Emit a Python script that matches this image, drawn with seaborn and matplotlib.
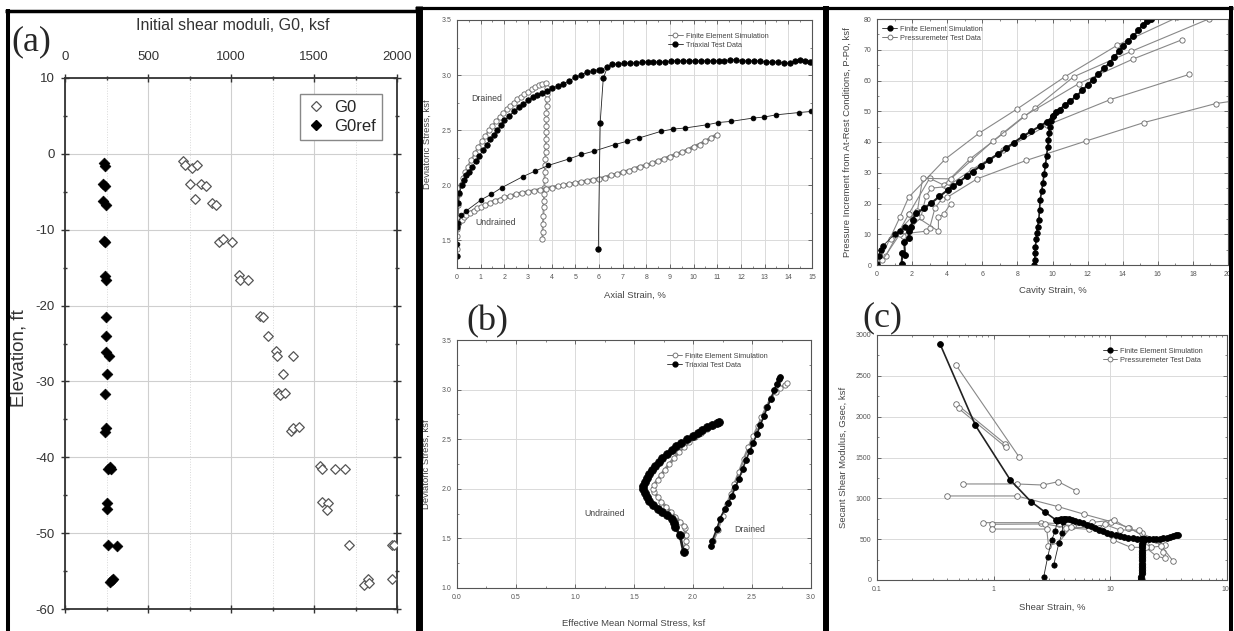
import matplotlib.pyplot as plt
import seaborn as sns
from matplotlib.lines import Line2D
from matplotlib.ticker import MultipleLocator

sns.set_style('white')
plt.rcParams['font.family'] = ['Liberation Sans', 'DejaVu Sans']
plt.rcParams['axes.unicode_minus'] = False

# ---------------- data ----------------
# (a) initial shear moduli vs elevation
g0_mod = [711, 725, 765, 796, 755, 822, 852, 781, 886, 912, 926, 953, 1007,
          1051, 1057, 1102, 1174, 1194, 1225, 1269, 1275, 1376, 1315, 1283,
          1295, 1325, 1364, 1374, 1410, 1537, 1551, 1627, 1688, 1551, 1585,
          1577, 1708, 1803, 1823, 1833, 1968, 1984, 1968]
g0_elev = [-1.0, -1.5, -1.85, -1.5, -4.0, -4.0, -4.3, -6.0, -6.5, -6.8, -11.6,
           -11.2, -11.6, -16.0, -16.6, -16.6, -21.4, -21.5, -24.0, -26.0, -26.6,
           -26.7, -29.0, -31.5, -31.8, -31.5, -36.5, -36.2, -36.0, -41.1, -41.6,
           -41.5, -41.5, -45.9, -46.0, -46.9, -51.5, -56.8, -56.0, -56.6, -51.5,
           -51.5, -56.0]
g0ref_mod = [232, 242, 228, 242, 228, 248, 236, 242, 242, 248, 248, 248, 248,
             268, 252, 238, 248, 238, 262, 278, 270, 252, 256, 262, 312, 292,
             272, 282]
g0ref_elev = [-1.2, -1.6, -4.0, -4.3, -6.2, -6.7, -11.5, -11.6, -16.1, -16.6,
              -21.5, -24.0, -26.1, -26.7, -29.0, -31.7, -36.1, -36.7, -41.5,
              -41.6, -41.3, -46.0, -46.8, -51.5, -51.7, -56.0, -56.5, -56.2]

# (b) top: deviatoric stress vs axial strain
fe_dr_strain = [0.0, 0.0, 0.03, 0.06, 0.1, 0.15, 0.25, 0.35, 0.45, 0.6, 0.75,
                0.9, 1.05, 1.2, 1.35, 1.5, 1.65, 1.8, 1.95, 2.1, 2.25, 2.4,
                2.55, 2.7, 2.85, 3.0, 3.15, 3.3, 3.45, 3.6, 3.75, 3.8, 3.8,
                3.79, 3.79, 3.78, 3.78, 3.77, 3.77, 3.76, 3.75, 3.74, 3.73,
                3.72, 3.71, 3.7, 3.69, 3.68, 3.67, 3.66, 3.65, 3.63, 3.62, 3.61]
fe_dr_q = [1.42, 1.54, 1.70, 1.82, 1.92, 2.0, 2.07, 2.12, 2.17, 2.23, 2.29,
           2.35, 2.4, 2.45, 2.5, 2.54, 2.58, 2.62, 2.66, 2.69, 2.72, 2.75,
           2.78, 2.8, 2.83, 2.85, 2.87, 2.89, 2.91, 2.92, 2.93, 2.88, 2.83,
           2.78, 2.72, 2.66, 2.6, 2.54, 2.48, 2.42, 2.36, 2.3, 2.24, 2.18,
           2.12, 2.05, 1.98, 1.92, 1.86, 1.8, 1.72, 1.65, 1.58, 1.51]
fe_un_strain = [0.0, 0.05, 0.1, 0.2, 0.3, 0.4, 0.55, 0.7, 0.85, 1.0, 1.2, 1.4,
                1.6, 1.8, 2.0, 2.25, 2.5, 2.75, 3.0, 3.25, 3.5, 3.75, 4.0, 4.25,
                4.5, 4.75, 5.0, 5.25, 5.5, 5.75, 6.0, 6.25, 6.5, 6.75, 7.0,
                7.25, 7.5, 7.75, 8.0, 8.25, 8.5, 8.75, 9.0, 9.25, 9.5, 9.75,
                10.0, 10.25, 10.5, 10.75, 11.0]
fe_un_q = [1.6, 1.65, 1.67, 1.69, 1.71, 1.73, 1.75, 1.77, 1.79, 1.8, 1.82, 1.84,
           1.86, 1.87, 1.89, 1.9, 1.92, 1.93, 1.94, 1.95, 1.96, 1.97, 1.98,
           1.99, 2.0, 2.01, 2.02, 2.03, 2.04, 2.05, 2.06, 2.07, 2.09, 2.1,
           2.12, 2.13, 2.15, 2.17, 2.18, 2.2, 2.22, 2.24, 2.26, 2.28, 2.3,
           2.32, 2.35, 2.37, 2.4, 2.43, 2.46]
tx_dr_strain = [0.0, 0.02, 0.05, 0.1, 0.2, 0.3, 0.4, 0.5, 0.65, 0.8, 0.95, 1.1,
                1.25, 1.4, 1.55, 1.7, 1.85, 2.0, 2.2, 2.4, 2.6, 2.8, 3.0, 3.2,
                3.4, 3.6, 3.8, 4.0, 4.25, 4.5, 4.75, 5.0, 5.25, 5.5, 5.75, 6.0,
                6.1]
tx_dr_q = [1.36, 1.62, 1.84, 1.93, 2.0, 2.05, 2.09, 2.12, 2.17, 2.22, 2.27,
           2.32, 2.37, 2.42, 2.46, 2.5, 2.55, 2.59, 2.63, 2.67, 2.71, 2.74,
           2.77, 2.8, 2.82, 2.84, 2.86, 2.88, 2.9, 2.92, 2.95, 2.98, 3.0,
           3.03, 3.04, 3.05, 3.05]
tx_dr2_strain = [5.97, 6.05, 6.18, 6.35, 6.55, 6.8, 7.05, 7.3, 7.55, 7.8, 8.05,
                 8.3, 8.55, 8.8, 9.05, 9.3, 9.55, 9.8, 10.05, 10.3, 10.55, 10.8,
                 11.05, 11.3, 11.55, 11.8, 12.05, 12.3, 12.55, 12.8, 13.05,
                 13.3, 13.55, 13.8, 14.05, 14.3, 14.5, 14.7, 14.9, 15.0]
tx_dr2_q = [1.42, 2.57, 2.97, 3.07, 3.1, 3.1, 3.11, 3.11, 3.11, 3.12, 3.12,
            3.12, 3.12, 3.12, 3.13, 3.13, 3.13, 3.13, 3.13, 3.13, 3.13, 3.13,
            3.13, 3.13, 3.14, 3.14, 3.13, 3.13, 3.13, 3.13, 3.12, 3.12, 3.12,
            3.11, 3.11, 3.13, 3.14, 3.13, 3.12, 3.12]
tx_un_strain = [0.0, 0.05, 0.18, 0.4, 1.03, 1.45, 1.9, 2.79, 3.31, 3.85, 4.74,
                5.26, 5.78, 6.67, 7.19, 7.7, 8.62, 9.11, 9.63, 10.58, 11.04,
                11.57, 12.5, 12.99, 13.5, 14.43, 14.95]
tx_un_q = [1.47, 1.66, 1.73, 1.77, 1.87, 1.92, 1.98, 2.08, 2.13, 2.18, 2.24,
           2.28, 2.31, 2.37, 2.4, 2.43, 2.49, 2.51, 2.52, 2.55, 2.57, 2.58,
           2.61, 2.62, 2.64, 2.66, 2.67]

# (b) bottom: stress paths
tp_un_p = [1.92, 1.89, 1.85, 1.84, 1.82, 1.78, 1.74, 1.7, 1.66, 1.63, 1.61,
           1.59, 1.58, 1.58, 1.59, 1.61, 1.63, 1.65, 1.68, 1.71, 1.74, 1.78,
           1.82, 1.86, 1.9, 1.95, 2.0, 2.04, 2.08, 2.12, 2.16, 2.2, 2.22]
tp_un_q = [1.36, 1.53, 1.61, 1.66, 1.7, 1.74, 1.77, 1.8, 1.84, 1.88, 1.92,
           1.96, 2.0, 2.03, 2.07, 2.11, 2.15, 2.19, 2.23, 2.27, 2.31, 2.35,
           2.39, 2.43, 2.46, 2.5, 2.53, 2.56, 2.59, 2.62, 2.64, 2.66, 2.67]
fp_un_p = [1.94, 1.94, 1.94, 1.93, 1.92, 1.89, 1.85, 1.81, 1.77, 1.73, 1.7,
           1.67, 1.66, 1.67, 1.7, 1.73, 1.76, 1.8, 1.84, 1.88, 1.92, 1.97,
           2.02, 2.07, 2.12, 2.17]
fp_un_q = [1.41, 1.47, 1.53, 1.6, 1.63, 1.67, 1.72, 1.77, 1.82, 1.87, 1.92,
           1.97, 2.0, 2.04, 2.09, 2.14, 2.19, 2.25, 2.31, 2.37, 2.42, 2.47,
           2.52, 2.56, 2.6, 2.63]
tp_dr_p = [2.15, 2.16, 2.2, 2.23, 2.27, 2.3, 2.33, 2.36, 2.39, 2.42, 2.45,
           2.48, 2.51, 2.54, 2.57, 2.6, 2.63, 2.66, 2.69, 2.71, 2.73, 2.74]
tp_dr_q = [1.42, 1.47, 1.59, 1.7, 1.8, 1.86, 1.93, 2.02, 2.1, 2.2, 2.29, 2.38,
           2.46, 2.55, 2.64, 2.73, 2.82, 2.91, 3.0, 3.06, 3.11, 3.13]
fp_dr_p = [2.17, 2.21, 2.25, 2.29, 2.32, 2.35, 2.39, 2.43, 2.47, 2.51, 2.55,
           2.58, 2.62, 2.66, 2.7, 2.74, 2.78, 2.8]
fp_dr_q = [1.47, 1.58, 1.73, 1.85, 1.95, 2.05, 2.17, 2.3, 2.42, 2.53, 2.63,
           2.72, 2.82, 2.92, 2.98, 3.02, 3.05, 3.07]

# (c) top: pressuremeter curves
fe_cav1 = [0.0, 0.1, 0.2, 0.35, 1.0, 1.3, 1.6]
fe_pr1 = [0.3, 3.0, 4.8, 6.3, 10.0, 11.2, 12.5]
fe_cav2 = [1.4, 1.45, 1.6, 1.55, 1.81, 1.8, 1.94, 2.03, 2.22, 2.7, 3.08, 3.56,
           4.03, 4.35, 4.7, 5.1, 5.46, 5.9, 6.41, 6.9, 7.36, 7.8, 8.3, 8.8,
           9.26, 9.7, 10.0, 10.2, 10.4, 10.7, 11.0, 11.35, 11.7, 12.0, 12.3,
           12.6, 12.95, 13.25, 13.5, 13.8, 14.0, 14.3, 14.6, 14.9, 15.15,
           15.4, 15.6]
fe_pr2 = [0.4, 3.8, 3.2, 7.6, 8.7, 11.0, 12.5, 14.7, 16.8, 18.5, 20.1, 22.3,
          24.4, 25.7, 27.1, 28.8, 30.4, 32.2, 34.2, 36.1, 38.0, 39.8, 41.8,
          43.5, 45.1, 46.6, 48.3, 49.8, 50.5, 52.0, 53.3, 54.8, 56.8, 58.5,
          60.2, 62.0, 64.0, 65.7, 67.5, 69.5, 71.1, 72.8, 74.4, 76.3, 78.2,
          79.3, 80.0]
fe_cav3 = [8.97, 8.99, 9.0, 9.03, 9.07, 9.1, 9.15, 9.22, 9.26, 9.3, 9.38, 9.45,
           9.52, 9.6, 9.66, 9.73, 9.77, 9.79, 9.85, 9.92, 10.0]
fe_pr3 = [0.0, 1.5, 3.8, 6.0, 8.5, 10.3, 12.5, 14.7, 18.0, 21.2, 24.0, 26.6,
          29.5, 32.6, 35.5, 38.5, 40.5, 42.9, 45.0, 46.7, 48.3]
pm_cav = [
    [0.2, 1.3, 1.8, 3.9, 5.8, 8.0, 10.7, 13.7, 17.1],
    [0.5, 1.8, 3.0, 3.8, 5.3, 7.2, 9.0, 11.2, 14.5, 18.9],
    [0.8, 2.3, 2.6, 4.2, 6.6, 8.4, 11.5, 14.6, 17.4],
    [1.5, 2.5, 2.8, 3.1, 4.0, 5.4, 7.2, 9.7, 13.3, 17.8],
    [0.3, 1.3, 2.8, 3.0, 3.3, 3.7, 4.0, 5.7, 8.5, 11.9, 15.2, 19.3, 20.5],
    [1.8, 2.3, 3.5, 3.5, 3.8, 4.2],
]
pm_pr = [
    [2.0, 15.5, 22.0, 34.5, 42.8, 50.8, 61.2, 71.5, 80.5],
    [3.0, 16.5, 28.2, 26.0, 34.5, 42.8, 51.0, 61.2, 69.5, 80.0],
    [8.5, 17.5, 28.2, 28.0, 40.3, 48.5, 59.0, 67.0, 73.3],
    [9.5, 15.5, 22.5, 25.0, 25.5, 31.0, 37.3, 45.5, 53.8, 62.0],
    [1.5, 10.0, 11.0, 12.0, 18.5, 21.5, 22.0, 28.0, 34.0, 40.3, 46.3, 52.5, 53.5],
    [16.5, 15.5, 11.0, 15.5, 16.5, 20.0],
]

# (c) bottom: secant shear modulus vs shear strain
fe_gam1 = [0.347, 0.697, 1.39, 2.09, 2.77, 3.42, 3.6, 3.8, 4.0, 4.2, 4.45, 4.7,
           5.0, 5.4, 5.8, 6.3, 6.8, 7.4, 8.0, 8.7, 9.4, 10.2, 11.1, 12.1, 13.2,
           14.3, 15.5, 16.8, 18.2, 19.7, 21.3, 23.0, 24.7, 26.5, 28.5, 30.5,
           32.5, 34.5, 36.5, 37.7]
fe_gsec1 = [2890, 1894, 1224, 959, 829, 735, 740, 748, 752, 750, 745, 735, 722,
            708, 694, 676, 660, 636, 612, 595, 580, 566, 553, 540, 528, 520,
            513, 506, 501, 498, 496, 497, 498, 503, 510, 517, 525, 535, 545, 551]
fe_gam2 = [2.68, 2.9, 3.14, 3.38, 3.5, 3.6]
fe_gsec2 = [33, 278, 490, 604, 727, 740]
fe_gam3 = [3.27, 3.63, 3.86, 3.92, 4.0]
fe_gsec3 = [184, 457, 571, 714, 752]
fe_gam4 = [18.4, 18.45, 18.5, 18.5, 18.55, 18.6, 18.6, 18.65, 18.7, 18.7,
           18.75, 18.8, 18.9, 19.0]
fe_gsec4 = [0, 40, 80, 120, 160, 200, 240, 280, 320, 360, 400, 440, 480, 500]
pm_gam = [
    [0.475, 1.66],
    [0.48, 1.26],
    [0.50, 1.28],
    [0.55, 1.58, 2.63, 3.58, 5.1],
    [0.40, 1.58, 3.58, 6.0, 10.2, 14.5, 21.2, 29.3],
    [0.81, 2.54, 3.6, 4.8, 7.0, 10.8, 14.1, 18.6, 24.7, 28.4],
    [0.97, 2.77, 4.2, 6.5, 9.0, 12.1, 17.7, 22.4, 27.4, 34.3],
    [0.97, 2.85, 2.95, 3.6, 4.6, 8.0, 10.6, 15.0, 20.1, 24.7, 29.3],
]
pm_gsec = [
    [2633, 1502],
    [2155, 1665],
    [2102, 1624],
    [1176, 1176, 1163, 1204, 1090],
    [1029, 1029, 898, 804, 714, 641, 498, 429],
    [702, 702, 690, 660, 706, 735, 633, 571, 490, 347],
    [682, 686, 640, 620, 680, 612, 612, 400, 416, 237],
    [624, 624, 420, 457, 645, 640, 490, 400, 400, 294, 265],
]

# ---------------- figure ----------------
W, H = 1234, 631
fig = plt.figure(figsize=(W / 100, H / 100), dpi=100)


def rect(l, t, r, b):
    return [l / W, 1 - b / H, (r - l) / W, (b - t) / H]


def px(x, y):
    return x / W, 1 - y / H


def curve(ax, x, y, filled, ms=3.2, lw=0.6, lc=None):
    if filled:
        kw = dict(color=lc or '#222222', markerfacecolor='black', markeredgecolor='black')
    else:
        kw = dict(color=lc or '#888888', markerfacecolor='white', markeredgecolor='#666666')
    sns.lineplot(x=x, y=y, ax=ax, sort=False, estimator=None, marker='o',
                 markersize=ms, linewidth=lw, markeredgewidth=0.6, **kw)


def style_small(ax, xlabel, ylabel, xl_y, yl_x):
    ax.grid(True, which='major', color='#dadada', lw=0.7)
    ax.set_axisbelow(True)
    for s in ax.spines.values():
        s.set_color('#555555')
        s.set_linewidth(0.8)
    ax.tick_params(which='both', direction='in', top=True, right=True,
                   bottom=True, left=True, colors='#555555')
    ax.tick_params(which='major', length=3, width=0.6, labelsize=5,
                   labelcolor='#555555', pad=4)
    ax.tick_params(which='minor', length=1.6, width=0.5)
    ax.set_xlabel(xlabel, fontsize=6.8, color='#444444')
    ax.set_ylabel(ylabel, fontsize=6.8, color='#444444')
    ax.xaxis.set_label_coords(0.5, xl_y)
    ax.yaxis.set_label_coords(yl_x, 0.5)


def small_legend(ax, labels, filled_first, anchor):
    hs = []
    for i in range(2):
        filled = (i == 0) == filled_first
        if filled:
            hs.append(Line2D([], [], color='#222222', lw=0.6, marker='o', ms=3.5,
                             mfc='black', mec='black'))
        else:
            hs.append(Line2D([], [], color='#666666', lw=0.6, marker='o', ms=3.5,
                             mfc='white', mec='#666666', mew=0.6))
    ax.legend(hs, labels, loc='upper left', bbox_to_anchor=anchor, frameon=False,
              fontsize=5.3, handlelength=2.0, handletextpad=0.4, labelspacing=0.25,
              borderpad=0.2, labelcolor='#444444')


# ---- (a) ----
ax = fig.add_axes(rect(65, 78, 397, 609))
sns.scatterplot(x=g0_mod, y=g0_elev, ax=ax, marker='D', s=24,
                facecolor='white', edgecolor='#555555', linewidth=0.9, zorder=3)
sns.scatterplot(x=g0ref_mod, y=g0ref_elev, ax=ax, marker='D', s=30,
                color='black', edgecolor='black', linewidth=0.5, zorder=3)
ax.set_xlim(0, 2000)
ax.set_ylim(-60, 10)
ax.xaxis.set_major_locator(MultipleLocator(500))
ax.xaxis.set_minor_locator(MultipleLocator(250))
ax.yaxis.set_major_locator(MultipleLocator(10))
ax.yaxis.set_minor_locator(MultipleLocator(5))
ax.tick_params(axis='x', which='both', top=True, bottom=True,
               labeltop=True, labelbottom=False)
ax.tick_params(axis='y', which='both', left=True, right=True)
ax.tick_params(which='major', direction='inout', length=5.5, width=1.0,
               color='#333333', labelsize=9.5, labelcolor='#333333')
ax.tick_params(axis='x', which='major', pad=8)
ax.tick_params(axis='y', which='major', pad=4.5)
ax.tick_params(which='minor', direction='inout', length=3.5, width=1.0,
               color='#333333')
ax.grid(which='major', color='#cfcfcf', lw=0.8)
ax.grid(which='minor', axis='x', color='#d8d8d8', lw=0.7, ls=':')
ax.set_axisbelow(True)
for s in ax.spines.values():
    s.set_color('#333333')
    s.set_linewidth(1.3)
ax.set_xlabel('')
ax.set_ylabel('')
hs = [Line2D([], [], ls='none', marker='D', ms=5, mfc='white', mec='#555555', mew=0.9),
      Line2D([], [], ls='none', marker='D', ms=5.5, mfc='black', mec='black')]
ax.legend(hs, ['G0', 'G0ref'], loc='upper right', bbox_to_anchor=(0.98, 0.985),
          fontsize=12, frameon=True, fancybox=False, edgecolor='#888888',
          framealpha=1, borderpad=0.35, labelspacing=0.25, handletextpad=0.5,
          handlelength=1.2)
fig.text(*px(233, 25), 'Initial shear moduli, G0, ksf', fontsize=11.5,
         color='#333333', ha='center', va='center')
fig.text(*px(19, 358), 'Elevation, ft', fontsize=13.5, color='#333333',
         ha='center', va='center', rotation=90)
fig.text(*px(31, 42), '(a)', fontsize=26, family='Liberation Serif',
         ha='center', va='center')

# ---- (b) top ----
bt = fig.add_axes(rect(457, 20, 812, 268))
curve(bt, fe_dr_strain, fe_dr_q, False, ms=3.8, lw=1.4, lc='#999999')
curve(bt, fe_un_strain, fe_un_q, False, ms=3.8, lw=2.4, lc='#8a8a8a')
curve(bt, tx_dr_strain, tx_dr_q, True, ms=3.9)
curve(bt, tx_dr2_strain, tx_dr2_q, True, ms=3.9)
curve(bt, tx_un_strain, tx_un_q, True, ms=3.4)
bt.set_xlim(0, 15)
bt.set_ylim(1.25, 3.5)
bt.set_xticks(range(0, 16))
bt.xaxis.set_minor_locator(MultipleLocator(0.5))
bt.set_yticks([1.5, 2.0, 2.5, 3.0, 3.5], ['1.5', '2.0', '2.5', '3.0', '3.5'])
bt.yaxis.set_minor_locator(MultipleLocator(0.25))
style_small(bt, 'Axial Strain, %', 'Deviatoric Stress, ksf', -0.093, -0.070)
small_legend(bt, ['Finite Element Simulation', 'Triaxial Test Data'], False, (0.58, 0.97))
bt.text(1.25, 2.79, 'Drained', fontsize=6.3, color='#444444', ha='center', va='center')
bt.text(1.65, 1.66, 'Undrained', fontsize=6.3, color='#444444', ha='center', va='center')

# ---- (b) bottom ----
bb = fig.add_axes(rect(457, 340, 811, 588))
curve(bb, fp_un_p, fp_un_q, False, ms=3.8, lw=2.2, lc='#8a8a8a')
curve(bb, fp_dr_p, fp_dr_q, False, ms=3.8, lw=1.6, lc='#8a8a8a')
curve(bb, tp_un_p, tp_un_q, True, ms=5.6, lw=2.0)
curve(bb, tp_dr_p, tp_dr_q, True, ms=4.2, lw=1.2)
bb.set_xlim(0, 3)
bb.set_ylim(1.0, 3.5)
bb.set_xticks([0, 0.5, 1.0, 1.5, 2.0, 2.5, 3.0],
              ['0.0', '0.5', '1.0', '1.5', '2.0', '2.5', '3.0'])
bb.xaxis.set_minor_locator(MultipleLocator(0.25))
bb.set_yticks([1.0, 1.5, 2.0, 2.5, 3.0, 3.5], ['1.0', '1.5', '2.0', '2.5', '3.0', '3.5'])
bb.yaxis.set_minor_locator(MultipleLocator(0.25))
style_small(bb, 'Effective Mean Normal Stress, ksf', 'Deviatoric Stress, ksf', -0.125, -0.073)
small_legend(bb, ['Finite Element Simulation', 'Triaxial Test Data'], False, (0.58, 0.97))
bb.text(1.25, 1.75, 'Undrained', fontsize=6.3, color='#444444', ha='center', va='center')
bb.text(2.48, 1.59, 'Drained', fontsize=6.3, color='#444444', ha='center', va='center')
fig.text(*px(487, 322), '(b)', fontsize=26, family='Liberation Serif',
         ha='center', va='center')

# ---- (c) top ----
ct = fig.add_axes(rect(877, 19, 1228, 265))
for xs, ys in zip(pm_cav, pm_pr):
    curve(ct, xs, ys, False, ms=3.8, lw=0.8)
curve(ct, fe_cav1, fe_pr1, True, ms=4.0)
curve(ct, fe_cav2, fe_pr2, True, ms=4.3, lw=1.5)
curve(ct, fe_cav3, fe_pr3, True, ms=4.0, lw=1.2)
ct.set_xlim(0, 20)
ct.set_ylim(0, 80)
ct.set_xticks(range(0, 21, 2))
ct.xaxis.set_minor_locator(MultipleLocator(1))
ct.set_yticks(range(0, 81, 10))
ct.yaxis.set_minor_locator(MultipleLocator(5))
style_small(ct, 'Cavity Strain, %',
            'Pressure Increment from At-Rest Conditions, P-P0, ksf', -0.085, -0.071)
small_legend(ct, ['Finite Element Simulation', 'Pressuremeter Test Data'], True, (0.0, 0.995))

# ---- (c) bottom ----
cb = fig.add_axes(rect(877, 335, 1227, 580))
cb.set_xscale('log')
for xs, ys in zip(pm_gam, pm_gsec):
    curve(cb, xs, ys, False, ms=4.0, lw=0.8)
curve(cb, fe_gam1, fe_gsec1, True, ms=4.2, lw=1.2)
curve(cb, fe_gam2, fe_gsec2, True, ms=3.8)
curve(cb, fe_gam3, fe_gsec3, True, ms=3.8)
curve(cb, fe_gam4, fe_gsec4, True, ms=4.6, lw=2.0)
cb.set_xlim(0.1, 100)
cb.set_ylim(0, 3000)
cb.set_xticks([0.1, 1, 10, 100], ['0.1', '1', '10', '100'])
cb.set_yticks(range(0, 3001, 500))
cb.yaxis.set_minor_locator(MultipleLocator(250))
style_small(cb, 'Shear Strain, %', 'Secant Shear Modulus, Gsec, ksf', -0.094, -0.083)
small_legend(cb, ['Finite Element Simulation', 'Pressuremeter Test Data'], True, (0.63, 0.97))
fig.text(*px(882, 318), '(c)', fontsize=26, family='Liberation Serif',
         ha='center', va='center')


# ---- thick panel frames ----
def fline(x0, y0, x1, y1, lw):
    fig.add_artist(Line2D([x0 / W, x1 / W], [1 - y0 / H, 1 - y1 / H],
                          transform=fig.transFigure, color='black', lw=lw,
                          solid_capstyle='butt'))


fline(5, 11, 420, 11, 2.5)
fline(415, 8, 1233, 8, 2.3)
fline(8, 9, 8, 631, 2.9)
fline(418.5, 6, 418.5, 631, 5.0)
fline(826, 6, 826, 631, 4.3)
fline(1230.5, 6, 1230.5, 631, 2.9)

fig.savefig('out.png', dpi=100, facecolor='white')
